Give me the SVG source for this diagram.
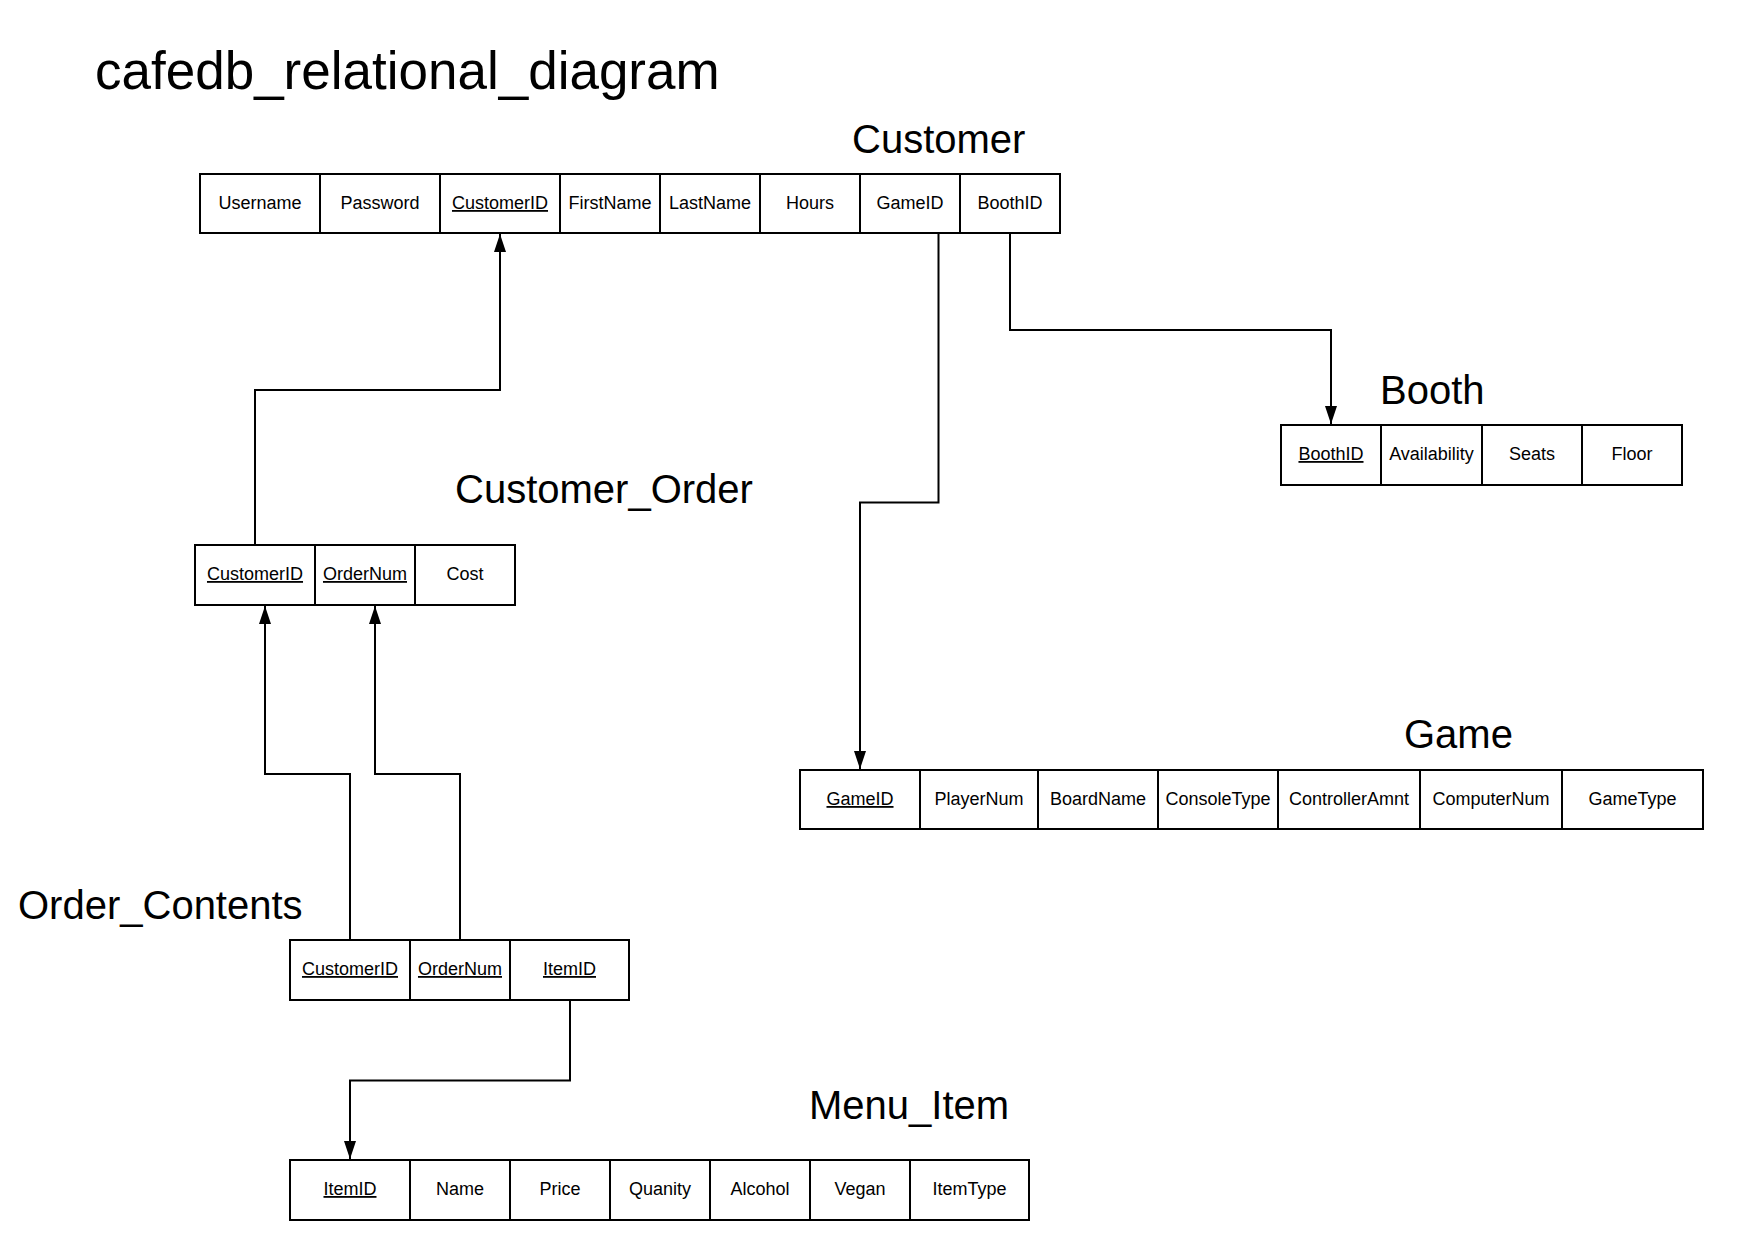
<svg xmlns="http://www.w3.org/2000/svg" width="1742" height="1260" viewBox="0 0 1742 1260">
<style>
  text { font-family: "Liberation Sans", Arial, sans-serif; fill: #000; }
  .title { font-size: 53px; }
  .cell rect { fill: #fff; stroke: #000; stroke-width: 2; }
  .cell text { font-size: 18px; text-anchor: middle; }
  .cell text.label { font-size: 40px; text-anchor: start; }
  .key { text-decoration: underline; }
  .conn path { fill: none; stroke: #000; stroke-width: 2; }
</style>
<defs>
  <marker id="arrow" markerUnits="userSpaceOnUse" markerWidth="18" markerHeight="12" refX="18" refY="6" orient="auto">
    <path d="M0,0 L18,6 L0,12 Z" fill="#000"/>
  </marker>
</defs>
<rect width="1742" height="1260" fill="#fff"/>
<text class="title" x="95" y="89">cafedb_relational_diagram</text>

<g id="connectors" class="conn">
  <path d="M255,545 V390 H500 V234" marker-end="url(#arrow)"/>
  <path d="M938.5,233 V502.5 H860 V769" marker-end="url(#arrow)"/>
  <path d="M1010,233 V330 H1331 V424" marker-end="url(#arrow)"/>
  <path d="M350,940 V774 H265 V606" marker-end="url(#arrow)"/>
  <path d="M460,940 V774 H375 V606" marker-end="url(#arrow)"/>
  <path d="M570,1000 V1080.5 H350 V1159" marker-end="url(#arrow)"/>
</g>

<g id="customer" class="cell">
  <text class="label" x="852" y="153">Customer</text>
  <rect x="200" y="174" width="120" height="59"/>
  <rect x="320" y="174" width="120" height="59"/>
  <rect x="440" y="174" width="120" height="59"/>
  <rect x="560" y="174" width="100" height="59"/>
  <rect x="660" y="174" width="100" height="59"/>
  <rect x="760" y="174" width="100" height="59"/>
  <rect x="860" y="174" width="100" height="59"/>
  <rect x="960" y="174" width="100" height="59"/>
  <text x="260" y="209">Username</text>
  <text x="380" y="209">Password</text>
  <text x="500" y="209" class="key">CustomerID</text>
  <text x="610" y="209">FirstName</text>
  <text x="710" y="209">LastName</text>
  <text x="810" y="209">Hours</text>
  <text x="910" y="209">GameID</text>
  <text x="1010" y="209">BoothID</text>
</g>

<g id="booth" class="cell">
  <text class="label" x="1380" y="404">Booth</text>
  <rect x="1281" y="425" width="100" height="60"/>
  <rect x="1381" y="425" width="101" height="60"/>
  <rect x="1482" y="425" width="100" height="60"/>
  <rect x="1582" y="425" width="100" height="60"/>
  <text x="1331" y="460" class="key">BoothID</text>
  <text x="1431.5" y="460">Availability</text>
  <text x="1532" y="460">Seats</text>
  <text x="1632" y="460">Floor</text>
</g>

<g id="customer_order" class="cell">
  <text class="label" x="455" y="503">Customer_Order</text>
  <rect x="195" y="545" width="120" height="60"/>
  <rect x="315" y="545" width="100" height="60"/>
  <rect x="415" y="545" width="100" height="60"/>
  <text x="255" y="580" class="key">CustomerID</text>
  <text x="365" y="580" class="key">OrderNum</text>
  <text x="465" y="580">Cost</text>
</g>

<g id="game" class="cell">
  <text class="label" x="1404" y="748">Game</text>
  <rect x="800" y="770" width="120" height="59"/>
  <rect x="920" y="770" width="118" height="59"/>
  <rect x="1038" y="770" width="120" height="59"/>
  <rect x="1158" y="770" width="120" height="59"/>
  <rect x="1278" y="770" width="142" height="59"/>
  <rect x="1420" y="770" width="142" height="59"/>
  <rect x="1562" y="770" width="141" height="59"/>
  <text x="860" y="805" class="key">GameID</text>
  <text x="979" y="805">PlayerNum</text>
  <text x="1098" y="805">BoardName</text>
  <text x="1218" y="805">ConsoleType</text>
  <text x="1349" y="805">ControllerAmnt</text>
  <text x="1491" y="805">ComputerNum</text>
  <text x="1632.5" y="805">GameType</text>
</g>

<g id="order_contents" class="cell">
  <text class="label" x="18" y="919">Order_Contents</text>
  <rect x="290" y="940" width="120" height="60"/>
  <rect x="410" y="940" width="100" height="60"/>
  <rect x="510" y="940" width="119" height="60"/>
  <text x="350" y="975" class="key">CustomerID</text>
  <text x="460" y="975" class="key">OrderNum</text>
  <text x="569.5" y="975" class="key">ItemID</text>
</g>

<g id="menu_item" class="cell">
  <text class="label" x="809" y="1119">Menu_Item</text>
  <rect x="290" y="1160" width="120" height="60"/>
  <rect x="410" y="1160" width="100" height="60"/>
  <rect x="510" y="1160" width="100" height="60"/>
  <rect x="610" y="1160" width="100" height="60"/>
  <rect x="710" y="1160" width="100" height="60"/>
  <rect x="810" y="1160" width="100" height="60"/>
  <rect x="910" y="1160" width="119" height="60"/>
  <text x="350" y="1195" class="key">ItemID</text>
  <text x="460" y="1195">Name</text>
  <text x="560" y="1195">Price</text>
  <text x="660" y="1195">Quanity</text>
  <text x="760" y="1195">Alcohol</text>
  <text x="860" y="1195">Vegan</text>
  <text x="969.5" y="1195">ItemType</text>
</g>
</svg>
